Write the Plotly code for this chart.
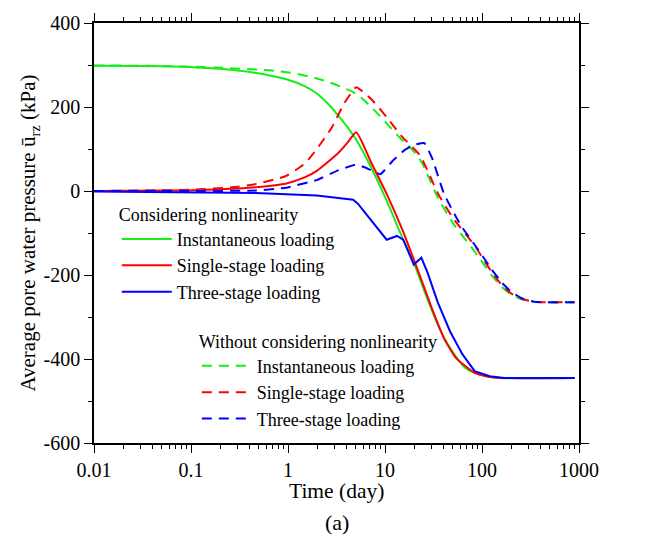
import plotly.graph_objects as go

# --- data: time (day) and average pore water pressure (kPa) ---
# Considering nonlinearity
t_inst_nl = [0.01, 0.05, 0.1, 0.2, 0.47, 0.96, 1.5, 1.98, 2.6, 3.28, 4.1, 5.05, 7.2, 10.4, 14.9, 19.8, 26.4, 35, 47, 67, 84, 110, 150, 900]
u_inst_nl = [298, 297, 295, 291, 281, 266, 249, 232, 207, 180, 152, 122, 56, -23, -108, -171, -248, -318, -374, -421, -433, -441, -445, -445]

t_single_nl = [0.01, 0.1, 0.3, 0.47, 0.96, 1.5, 1.98, 3.28, 4.07, 5.05, 7.2, 10.4, 14.9, 17.1, 22.9, 30.5, 40.6, 54, 84, 110, 150, 900]
u_single_nl = [0, 2, 6, 9, 18, 33, 48, 90, 114, 140, 68, -7, -89, -124, -202, -280, -351, -398, -433, -441, -445, -445]

t_three_nl = [0.01, 0.1, 0.47, 1.98, 4.7, 5.25, 7.2, 10.4, 13.3, 15.4, 19.8, 23.7, 27.4, 35, 47, 63, 84, 120, 170, 900]
u_three_nl = [-1, -3, -5, -11, -21, -30, -70, -116, -107, -116, -175, -159, -194, -265, -335, -389, -429, -441, -445, -445]

# Without considering nonlinearity
t_inst_lin = [0.01, 0.1, 0.47, 0.96, 1.98, 3.28, 5.05, 7.2, 10.4, 14.9, 17.1, 22.9, 28.3, 35, 50.5, 84, 100, 125, 160, 200, 260, 350, 900]
u_inst_lin = [299, 296, 289, 283, 268, 251, 231, 200, 161, 122, 110, 75, 32, -15, -77, -144, -168, -200, -228, -246, -258, -264, -265]

t_single_lin = [0.01, 0.1, 0.3, 0.47, 0.96, 1.5, 1.98, 2.84, 3.78, 4.5, 5.05, 7.2, 10.4, 14.9, 22.9, 28.3, 35, 50.5, 84, 100, 125, 160, 200, 260, 350, 900]
u_single_lin = [0, 3, 10, 17, 36, 66, 100, 152, 208, 234, 247, 219, 176, 130, 85, 42, -5, -65, -130, -157, -192, -224, -244, -257, -264, -265]

t_three_lin = [0.01, 0.1, 0.47, 0.96, 1.98, 3.28, 5.05, 6.26, 8.97, 11.9, 16, 19.8, 25.5, 30.5, 40.6, 54, 63, 84, 100, 125, 160, 200, 260, 350, 900]
u_three_lin = [0, 0, 1, 8, 26, 49, 63, 56, 40, 71, 98, 110, 114, 79, -7, -62, -88, -128, -153, -186, -218, -240, -256, -264, -265]

labels = ["Instantaneous loading", "Single-stage loading", "Three-stage loading"]
colors = ["#14ee14", "#ff0000", "#0000ff"]

y_ticks = [-600, -400, -200, 0, 200, 400]
y_ticktext = ["-600", "-400", "-200", "0", "200", "400"]
x_ticks = [0.01, 0.1, 1, 10, 100, 1000]
x_ticktext = ["0.01", "0.1", "1", "10", "100", "1000"]

FONT = "Liberation Serif"

fig = go.Figure()

nl_series = [(t_inst_nl, u_inst_nl), (t_single_nl, u_single_nl), (t_three_nl, u_three_nl)]
lin_series = [(t_inst_lin, u_inst_lin), (t_single_lin, u_single_lin), (t_three_lin, u_three_lin)]
# smooth curves for the instantaneous case, sharper corners where loading stages change
nl_shapes = [("spline", 1.0), ("spline", 0.5), ("linear", 0)]
lin_shapes = [("spline", 1.0), ("spline", 0.5), ("spline", 0.3)]

for (t, u), name, c, (sh, sm) in zip(nl_series, labels, colors, nl_shapes):
    fig.add_trace(go.Scatter(x=t, y=u, mode="lines", name=name,
                             line=dict(color=c, width=2, shape=sh, smoothing=sm),
                             legend="legend"))

for (t, u), name, c, (sh, sm) in zip(lin_series, labels, colors, lin_shapes):
    fig.add_trace(go.Scatter(x=t, y=u, mode="lines", name=name,
                             line=dict(color=c, width=2, dash="10px,7px", shape=sh, smoothing=sm),
                             legend="legend2"))

# log minor ticks
minor_x = [m * 10 ** e for e in range(-2, 3) for m in range(2, 10)]

axis_common = dict(showline=True, linecolor="black", linewidth=1.5, mirror="allticks",
                   ticks="outside", tickcolor="black", tickwidth=1.2, ticklen=8,
                   showgrid=False, zeroline=False,
                   tickfont=dict(family=FONT, size=20, color="black"))

fig.update_xaxes(type="log", range=[-2, 3],
                 tickmode="array", tickvals=x_ticks, ticktext=x_ticktext,
                 minor=dict(tickmode="array", tickvals=minor_x, ticks="outside", ticklen=4,
                            tickcolor="black", tickwidth=1.2, showgrid=False),
                 **axis_common)

fig.update_yaxes(range=[-600, 400], tickmode="array", tickvals=y_ticks, ticktext=y_ticktext,
                 minor=dict(tickmode="linear", tick0=-600, dtick=100, ticks="outside", ticklen=4,
                            tickcolor="black", tickwidth=1.2, showgrid=False),
                 title=dict(text="Average pore water pressure ū<sub>rz</sub> (kPa)",
                            font=dict(family=FONT, size=21, color="black"), standoff=2),
                 **axis_common)

legend_common = dict(bgcolor="rgba(0,0,0,0)", borderwidth=0, itemwidth=50,
                     font=dict(family=FONT, size=18, color="black"),
                     xanchor="left", yanchor="top", tracegroupgap=0)

fig.update_layout(
    width=659, height=558,
    margin=dict(l=94, r=80, t=14, b=115),
    paper_bgcolor="white", plot_bgcolor="white",
    font=dict(family=FONT, color="black"),
    showlegend=True,
    legend=dict(x=0.047, y=0.585, title=dict(text="Considering nonlinearity",
                                            font=dict(family=FONT, size=18, color="black"), side="top"),
                **legend_common),
    legend2=dict(x=0.212, y=0.283, title=dict(text="Without considering nonlinearity",
                                             font=dict(family=FONT, size=18, color="black"), side="top"),
                 **legend_common),
    annotations=[
        dict(text="Time (day)", xref="paper", yref="paper", x=0.5, y=-0.114,
             xanchor="center", yanchor="middle", showarrow=False,
             font=dict(family=FONT, size=21.5, color="black")),
        dict(text="(a)", xref="paper", yref="paper", x=0.5, y=-0.19,
             xanchor="center", yanchor="middle", showarrow=False,
             font=dict(family=FONT, size=22, color="black")),
    ],
)

fig.write_html("out.html")
